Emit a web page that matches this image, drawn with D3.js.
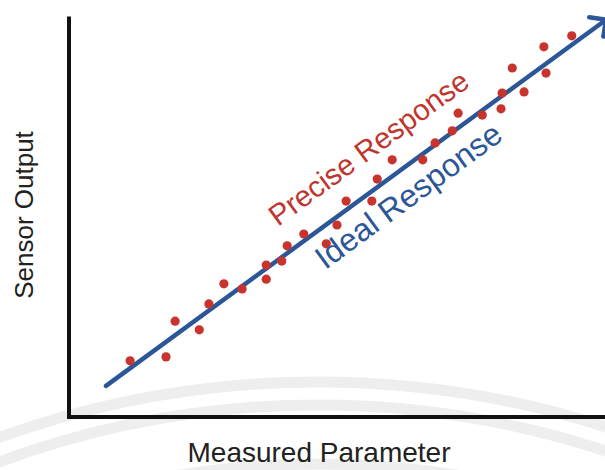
<!DOCTYPE html>
<html>
<head>
	<meta charset="utf-8">
	<title>Precise Response</title>
	<style>
		body { margin: 0; background: #fff; }
		text { font-family: "Liberation Sans", Arial, Helvetica, sans-serif; }
	</style>
</head>
<body>
	<svg id="container" width="605" height="470"></svg>
<script src="https://cdn.jsdelivr.net/npm/d3@7"></script>
<script>
	// measured points (sensor output vs measured parameter)
	const measuredX = [11.4, 18.1, 19.8, 24.3, 26.1, 28.9, 32.3, 36.8, 36.8, 39.7,
		40.7, 43.8, 48.0, 50.0, 51.7, 56.5, 57.5, 60.3, 66.0, 68.3,
		71.5, 72.6, 77.1, 80.6, 80.8, 84.9, 82.7, 89.0, 88.6, 93.8]
	const measuredY = [13.3, 14.3, 23.4, 21.2, 27.8, 32.9, 31.6, 37.7, 34.1, 38.7,
		42.6, 45.6, 43.1, 47.9, 54.0, 54.0, 59.6, 64.5, 64.5, 68.8,
		71.9, 76.4, 75.9, 77.5, 81.5, 81.8, 87.9, 86.6, 93.3, 96.1]
	// ideal response: output equals input
	const idealX = [6.9, 100.2]
	const idealY = [6.9, 100.2]
	const labels = ["Precise Response", "Ideal Response"]
	const labelX = [39.0, 47.8]
	const labelY = [47.4, 36.4]
	const labelSize = [29.5, 32]

	let svg = d3.select("#container")

	let x = d3.scaleLinear().domain([0, 100]).range([69, 605])
	let y = d3.scaleLinear().domain([0, 100]).range([413, 20.5])

	// faint watermark arcs in the background
	svg.append("g")
		.selectAll("circle")
		.data([944, 921, 862])
		.enter()
		.append("circle")
		.attr("cx", 318)
		.attr("cy", 1326)
		.attr("r", d => d)
		.style("fill", "none")
		.style("stroke", "#eeeeee")
		.style("stroke-width", 11)

	// axes are plain thick lines, no ticks
	svg.append("line")
		.attr("x1", x(0)).attr("x2", x(0))
		.attr("y1", y(101)).attr("y2", y(-1))
		.style("stroke", "#111").style("stroke-width", 4)
	svg.append("line")
		.attr("x1", x(0) - 2).attr("x2", x(102))
		.attr("y1", y(-1)).attr("y2", y(-1))
		.style("stroke", "#111").style("stroke-width", 4)

	// ideal response line + open arrow head
	let ideal = idealX.map((d, i) => [x(d), y(idealY[i])])
	svg.append("path")
		.attr("d", d3.line()(ideal))
		.style("fill", "none")
		.style("stroke", "#2b5697")
		.style("stroke-width", 4.5)
		.style("stroke-linecap", "round")

	let tip = ideal[1]
	let back = Math.atan2(ideal[0][1] - tip[1], ideal[0][0] - tip[0])
	let arm = 17
	let head = [-0.78, 0.78].map(a => [tip[0] + arm * Math.cos(back + a), tip[1] + arm * Math.sin(back + a)])
	svg.append("path")
		.attr("d", d3.line()([head[0], tip, head[1]]))
		.style("fill", "none")
		.style("stroke", "#2b5697")
		.style("stroke-width", 4.5)
		.style("stroke-linecap", "round")
		.style("stroke-linejoin", "miter")

	// measured points
	svg.append("g")
		.selectAll("circle")
		.data(measuredX)
		.enter()
		.append("circle")
		.attr("cx", d => x(d))
		.attr("cy", (d, i) => y(measuredY[i]))
		.attr("r", 4.6)
		.style("fill", "#c8342d")

	// labels running along the line
	let angle = Math.atan2(tip[1] - ideal[0][1], tip[0] - ideal[0][0]) * 180 / Math.PI
	let colors = ["#c0352e", "#2b5697"]
	svg.append("g")
		.selectAll("text")
		.data(labels)
		.enter()
		.append("text")
		.attr("transform", (d, i) => "translate(" + x(labelX[i]) + "," + y(labelY[i]) + ") rotate(" + angle + ")")
		.style("font-size", (d, i) => labelSize[i] + "px")
		.style("fill", (d, i) => colors[i])
		.text(d => d)

	// axis titles
	svg.append("text")
		.attr("x", 319).attr("y", 462)
		.attr("text-anchor", "middle")
		.style("font-size", "28px")
		.style("fill", "#222")
		.text("Measured Parameter")
	svg.append("text")
		.attr("transform", "translate(33,215) rotate(-90)")
		.attr("text-anchor", "middle")
		.style("font-size", "26px")
		.style("fill", "#222")
		.text("Sensor Output")
</script>
</body>
</html>
